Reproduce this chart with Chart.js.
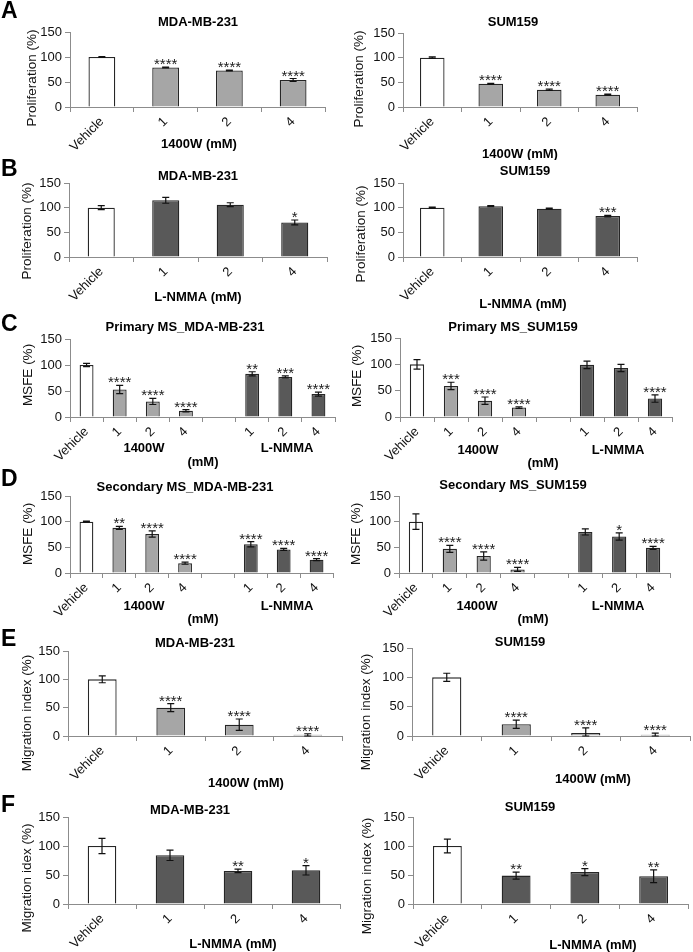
<!DOCTYPE html>
<html>
<head>
<meta charset="utf-8">
<script src="https://cdn.jsdelivr.net/npm/chart.js@4.4.1/dist/chart.umd.min.js"></script>
<style>
  body { margin: 0; background: #fff; width: 693px; height: 952px; position: relative; overflow: hidden; }
  canvas { position: absolute; }
  .lab { position: absolute; font: bold 23px "Liberation Sans", Arial, sans-serif; line-height: 1; color: #000; z-index: 2; }
</style>
</head>
<body>
<div class="lab" style="left:1px;top:-1px">A</div>
<div class="lab" style="left:1px;top:157px">B</div>
<div class="lab" style="left:1px;top:312px">C</div>
<div class="lab" style="left:1px;top:467px">D</div>
<div class="lab" style="left:1px;top:627px">E</div>
<div class="lab" style="left:1px;top:793px">F</div>
<script>
// categories
var catsDose = ['Vehicle', '1', '2', '4'];
var catsBoth = ['Vehicle', '1', '2', '4', '', '1', '2', '4'];

// A - proliferation with 1400W
var prolif231_1400W = [100, 79, 73, 54];
var prolif231_1400W_err = [1, 1, 1, 3];
var prolif231_1400W_sig = ['', '****', '****', '****'];
var prolif159_1400W = [100, 47, 35, 25];
var prolif159_1400W_err = [1.5, 1, 1.5, 1];
var prolif159_1400W_sig = ['', '****', '****', '****'];

// B - proliferation with L-NMMA
var prolif231_lnmma = [100, 115, 106, 70];
var prolif231_lnmma_err = [4, 6, 4, 5];
var prolif231_lnmma_sig = ['', '', '', '*'];
var prolif159_lnmma = [100, 103, 98, 83];
var prolif159_lnmma_err = [1, 1, 1, 1.5];
var prolif159_lnmma_sig = ['', '', '', '***'];

// C - primary mammospheres (blank slot between the two drugs)
var primary231 = [100, 53, 30, 12, null, 83, 77, 44];
var primary231_err = [3, 8, 6, 2, 0, 4, 2, 4];
var primary231_sig = ['', '****', '****', '****', '', '**', '***', '****'];
var primary159 = [100, 59, 31, 18, null, 99, 93, 35];
var primary159_err = [9, 7, 7, 1.5, 0, 7, 7, 7];
var primary159_sig = ['', '***', '****', '****', '', '', '', '****'];

// D - secondary mammospheres
var secondary231 = [100, 88, 76, 19, null, 56, 46, 26];
var secondary231_err = [1, 3, 6, 2, 0, 5, 2, 2];
var secondary231_sig = ['', '**', '****', '****', '', '****', '****', '****'];
var secondary159 = [100, 47, 33, 7, null, 80, 71, 49];
var secondary159_err = [15, 7, 8, 4, 0, 6, 7, 3];
var secondary159_sig = ['', '****', '****', '****', '', '', '*', '****'];

// E - migration with 1400W
var migr231_1400W = [100, 50, 20, 2];
var migr231_1400W_err = [6, 7, 10, 2];
var migr231_1400W_sig = ['', '****', '****', '****'];
var migr159_1400W = [100, 20, 5, 2];
var migr159_1400W_err = [7, 7, 9, 3];
var migr159_1400W_sig = ['', '****', '****', '****'];

// F - migration with L-NMMA
var migr231_lnmma = [100, 84, 57, 58];
var migr231_lnmma_err = [13, 9, 3, 8];
var migr231_lnmma_sig = ['', '', '**', '*'];
var migr159_lnmma = [100, 49, 55, 48];
var migr159_lnmma_err = [12, 6, 6, 11];
var migr159_lnmma_sig = ['', '**', '*', '**'];

var WHITE = '#ffffff', LIGHT = '#a6a6a6', DARK = '#595959';
var colDose1400 = [WHITE, LIGHT, LIGHT, LIGHT];
var colDoseLN = [WHITE, DARK, DARK, DARK];
var colBoth = [WHITE, LIGHT, LIGHT, LIGHT, LIGHT, DARK, DARK, DARK];

var FONT = '"Liberation Sans", Arial, sans-serif';

// layout: cell = [left, top, width, height], plot = [left, right, y@150, y@0]
var panels = [
  { cell: [0, 0, 346, 160], plot: [70, 325, 32, 107], cats: catsDose, vals: prolif231_1400W, err: prolif231_1400W_err, sig: prolif231_1400W_sig, colors: colDose1400,
    title: ['MDA-MB-231', 198, 22], yTitle: ['Proliferation (%)', 32, 78], xTitles: [['1400W (mM)', 199, 144]] },
  { cell: [346, 0, 347, 160], plot: [403, 637, 33, 107], cats: catsDose, vals: prolif159_1400W, err: prolif159_1400W_err, sig: prolif159_1400W_sig, colors: colDose1400,
    title: ['SUM159', 513, 22], yTitle: ['Proliferation (%)', 359, 79], xTitles: [['1400W (mM)', 520, 154]] },
  { cell: [0, 160, 346, 160], plot: [69, 327, 183, 257], cats: catsDose, vals: prolif231_lnmma, err: prolif231_lnmma_err, sig: prolif231_lnmma_sig, colors: colDoseLN,
    title: ['MDA-MB-231', 198, 176], yTitle: ['Proliferation (%)', 27, 231], xTitles: [['L-NMMA (mM)', 198, 297]] },
  { cell: [346, 160, 347, 160], plot: [403, 637, 183, 257], cats: catsDose, vals: prolif159_lnmma, err: prolif159_lnmma_err, sig: prolif159_lnmma_sig, colors: colDoseLN,
    title: ['SUM159', 525, 171], yTitle: ['Proliferation (%)', 361, 234], xTitles: [['L-NMMA (mM)', 523, 304]] },
  { cell: [0, 320, 346, 155], plot: [70, 335, 339, 417], cats: catsBoth, vals: primary231, err: primary231_err, sig: primary231_sig, colors: colBoth,
    title: ['Primary MS_MDA-MB-231', 185, 327], yTitle: ['MSFE (%)', 28, 375],
    xTitles: [['1400W', 144, 448], ['L-NMMA', 287, 448], ['(mM)', 203, 462]] },
  { cell: [346, 320, 347, 155], plot: [400, 672, 338, 417], cats: catsBoth, vals: primary159, err: primary159_err, sig: primary159_sig, colors: colBoth,
    title: ['Primary MS_SUM159', 513, 327], yTitle: ['MSFE (%)', 357, 376],
    xTitles: [['1400W', 478, 450], ['L-NMMA', 618, 450], ['(mM)', 543, 463]] },
  { cell: [0, 475, 346, 155], plot: [70, 333, 496, 573], cats: catsBoth, vals: secondary231, err: secondary231_err, sig: secondary231_sig, colors: colBoth,
    title: ['Secondary MS_MDA-MB-231', 185, 487], yTitle: ['MSFE (%)', 28, 534],
    xTitles: [['1400W', 144, 606], ['L-NMMA', 287, 606], ['(mM)', 203, 619]] },
  { cell: [346, 475, 347, 155], plot: [399, 670, 496, 573], cats: catsBoth, vals: secondary159, err: secondary159_err, sig: secondary159_sig, colors: colBoth,
    title: ['Secondary MS_SUM159', 513, 485], yTitle: ['MSFE (%)', 356, 534],
    xTitles: [['1400W', 477, 606], ['L-NMMA', 618, 606], ['(mM)', 533, 619]] },
  { cell: [0, 630, 346, 160], plot: [68, 342, 651, 736], cats: catsDose, vals: migr231_1400W, err: migr231_1400W_err, sig: migr231_1400W_sig, colors: colDose1400,
    title: ['MDA-MB-231', 195, 643], yTitle: ['Migration index (%)', 27, 713], xTitles: [['1400W (mM)', 246, 783]] },
  { cell: [346, 630, 347, 160], plot: [412, 690, 648, 736], cats: catsDose, vals: migr159_1400W, err: migr159_1400W_err, sig: migr159_1400W_sig, colors: colDose1400,
    title: ['SUM159', 520, 642], yTitle: ['Migration index (%)', 366, 712], xTitles: [['1400W (mM)', 593, 779]] },
  { cell: [0, 790, 346, 162], plot: [68, 340, 817, 904], cats: catsDose, vals: migr231_lnmma, err: migr231_lnmma_err, sig: migr231_lnmma_sig, colors: colDoseLN,
    title: ['MDA-MB-231', 190, 810], yTitle: ['Migration idex (%)', 27, 878], xTitles: [['L-NMMA (mM)', 233, 944]] },
  { cell: [346, 790, 347, 162], plot: [413, 688, 817, 904], cats: catsDose, vals: migr159_lnmma, err: migr159_lnmma_err, sig: migr159_lnmma_sig, colors: colDoseLN,
    title: ['SUM159', 530, 807], yTitle: ['Migration index (%)', 367, 876], xTitles: [['L-NMMA (mM)', 593, 945]] }
];

// error bars, stars and all the labels for one panel
function decor(p) {
  return {
    id: 'decor',
    afterDatasetsDraw: function(chart) {
      var ctx = chart.ctx;
      var yScale = chart.scales.y;
      var meta = chart.getDatasetMeta(0);
      var ox = p.cell[0], oy = p.cell[1];
      ctx.save();
      ctx.strokeStyle = '#111';
      ctx.lineWidth = 1.2;
      meta.data.forEach(function(bar, i) {
        var v = p.vals[i];
        if (v == null) return;
        var top = yScale.getPixelForValue(v + p.err[i]);
        var bot = yScale.getPixelForValue(Math.max(v - p.err[i], 0));
        ctx.beginPath();
        ctx.moveTo(bar.x, top); ctx.lineTo(bar.x, bot);
        ctx.moveTo(bar.x - 3.5, top); ctx.lineTo(bar.x + 3.5, top);
        ctx.moveTo(bar.x - 3.5, bot); ctx.lineTo(bar.x + 3.5, bot);
        ctx.stroke();
        if (p.sig[i]) {
          ctx.fillStyle = '#1a1a1a';
          ctx.font = '15px ' + FONT;
          ctx.textAlign = 'center';
          ctx.textBaseline = 'alphabetic';
          ctx.fillText(p.sig[i], bar.x, top + 2);
        }
      });
      ctx.fillStyle = '#000';
      ctx.textAlign = 'center';
      ctx.textBaseline = 'middle';
      ctx.font = 'bold 13px ' + FONT;
      ctx.fillText(p.title[0], p.title[1] - ox, p.title[2] - oy);
      p.xTitles.forEach(function(t) {
        ctx.fillText(t[0], t[1] - ox, t[2] - oy);
      });
      ctx.font = '13.5px ' + FONT;
      ctx.fillStyle = '#111';
      ctx.translate(p.yTitle[1] - ox, p.yTitle[2] - oy);
      ctx.rotate(-Math.PI / 2);
      ctx.fillText(p.yTitle[0], 0, 0);
      ctx.restore();
    }
  };
}

panels.forEach(function(p) {
  var cv = document.createElement('canvas');
  cv.width = p.cell[2];
  cv.height = p.cell[3];
  cv.style.left = p.cell[0] + 'px';
  cv.style.top = p.cell[1] + 'px';
  document.body.appendChild(cv);

  var yW = p.plot[0] - p.cell[0];
  var xH = p.cell[1] + p.cell[3] - p.plot[3];

  new Chart(cv, {
    type: 'bar',
    data: {
      labels: p.cats,
      datasets: [{
        data: p.vals,
        backgroundColor: p.colors,
        borderColor: '#262626',
        borderWidth: 1.3,
        barPercentage: 0.42,
        categoryPercentage: 1
      }]
    },
    options: {
      responsive: false,
      animation: false,
      devicePixelRatio: 1,
      layout: { padding: { top: p.plot[2] - p.cell[1], left: 0, right: p.cell[0] + p.cell[2] - p.plot[1], bottom: 0 } },
      plugins: { legend: { display: false }, tooltip: { enabled: false } },
      scales: {
        x: {
          afterFit: function(s) { s.height = xH; },
          grid: { offset: true, drawOnChartArea: false, tickLength: 5, color: '#8c8c8c' },
          border: { color: '#8c8c8c', width: 1 },
          ticks: { autoSkip: false, minRotation: 45, maxRotation: 45, padding: 2, color: '#111', font: { family: FONT, size: 13 } }
        },
        y: {
          min: 0, max: 150,
          afterFit: function(s) { s.width = yW; },
          grid: { drawOnChartArea: false, tickLength: 5, color: '#8c8c8c' },
          border: { color: '#8c8c8c', width: 1 },
          ticks: { stepSize: 50, padding: 3, color: '#111', font: { family: FONT, size: 13 } }
        }
      }
    },
    plugins: [decor(p)]
  });
});
</script>
</body>
</html>
